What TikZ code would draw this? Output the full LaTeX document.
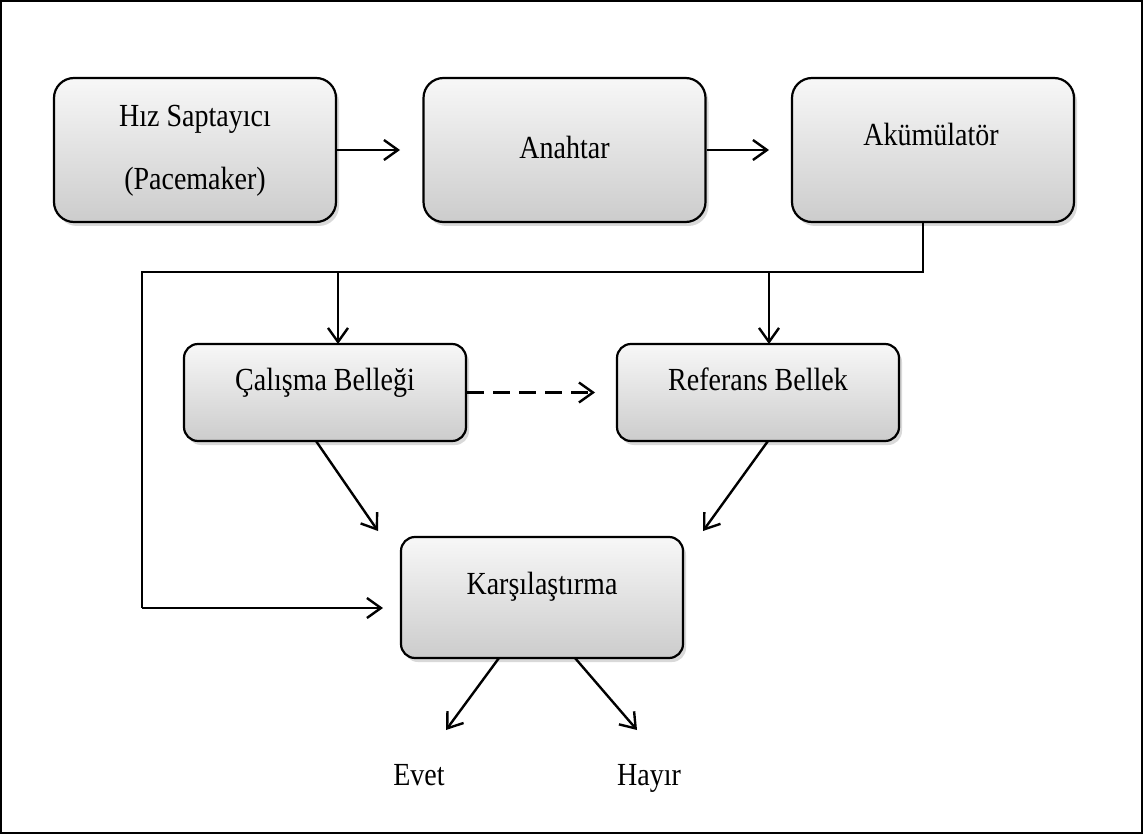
\documentclass[tikz,border=0pt]{standalone}
\usepackage{fontspec}
\setmainfont{Liberation Serif}
\usetikzlibrary{arrows.meta,shadows}
\begin{document}
\begin{tikzpicture}[x=1pt,y=-1pt,
  box/.style={draw, line width=2.2pt, top color=gray!6, bottom color=gray!40,
    drop shadow={opacity=0.3,shadow xshift=3pt,shadow yshift=-4pt},
    inner sep=0pt, minimum width=282pt},
  big/.style={box, rounded corners=20pt},
  small/.style={box, rounded corners=14pt},
  lbl/.style={font=\fontsize{28}{32}\selectfont, inner sep=0pt, anchor=base},
  ln/.style={line width=2.4pt},
  arr/.style={ln, -{Straight Barb[length=14pt,width=20pt,line width=2.4pt]}}]
% frame
\draw[line width=1.8pt] (0.9,0.9) rectangle (1142.1,833.1);
\useasboundingbox (0,0) rectangle (1143,834);
% boxes
\node[big, minimum height=144pt] (hiz) at (195,150) {};
\node[big, minimum height=144pt] (anahtar) at (564.5,150) {};
\node[big, minimum height=144pt] (akum) at (933,150) {};
\node[small, minimum height=97pt] (calisma) at (325,392.5) {};
\node[small, minimum height=97pt] (referans) at (758,392.5) {};
\node[small, minimum height=121pt] (kars) at (542,597.5) {};
% labels
\node[lbl] (t1) at (195,127) {\scalebox{1}[1.15]{Hız Saptayıcı}};
\node[lbl] (t2) at (195,190) {\scalebox{1}[1.15]{(Pacemaker)}};
\node[lbl] (t3) at (564.5,159) {\scalebox{1}[1.15]{Anahtar}};
\node[lbl] (t4) at (931,146) {\scalebox{1}[1.15]{Akümülatör}};
\node[lbl] (t5) at (325,390) {\scalebox{1}[1.15]{Çalışma Belleği}};
\node[lbl] (t6) at (758,390) {\scalebox{1}[1.15]{Referans Bellek}};
\node[lbl] (t7) at (542,594) {\scalebox{1}[1.15]{Karşılaştırma}};
\node[lbl] (evet) at (419,785) {\scalebox{1}[1.15]{Evet}};
\node[lbl] (hayir) at (649,785) {\scalebox{1}[1.15]{Hayır}};
% coordinates
\coordinate (bus) at (923,272);
\coordinate (busL) at (142,272);
\coordinate (busB) at (142,608);
\coordinate (karsL) at (383,608);
\coordinate (cTip) at (338,344);
\coordinate (rTip) at (769,344);
\coordinate (lTip) at (378,531);
\coordinate (rrTip) at (703,531);
\coordinate (eTip) at (446,730);
\coordinate (hTip) at (637,730);
% connectors
\draw[arr] (hiz.east) -- (400,150);
\draw[arr] (anahtar.east) -- (769,150);
\draw[ln] (akum.south -| bus) -- (bus) -- (busL) -- (busB);
\draw[arr] (busB) -- (karsL);
\draw[arr] (338,272) -- (cTip);
\draw[arr] (769,272) -- (rTip);
\draw[arr, dash pattern=on 17pt off 9pt] (calisma.east) -- (595,392.5);
\draw[arr] (316,441) -- (lTip);
\draw[arr] (768,441) -- (rrTip);
\draw[arr] (499,658) -- (eTip);
\draw[arr] (575,658) -- (hTip);
\end{tikzpicture}
\end{document}
